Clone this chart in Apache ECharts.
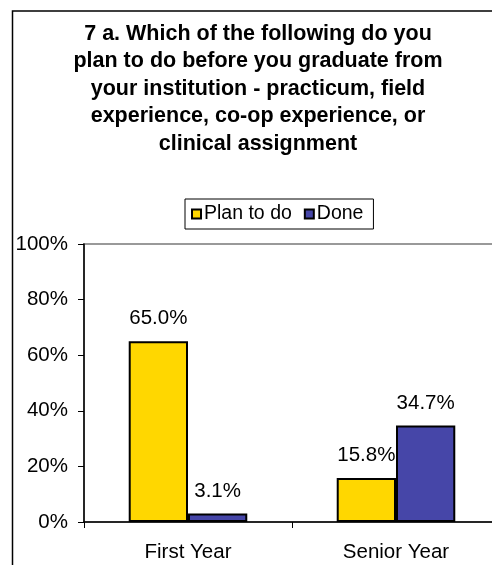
<!DOCTYPE html>
<html>
<head>
<meta charset="utf-8">
<script src="https://cdn.jsdelivr.net/npm/echarts@6/dist/echarts.min.js"></script>
<style>
    html, body { margin: 0; padding: 0; background: #fff; overflow: hidden; }
    #main { width: 540px; height: 600px; }
</style>
</head>
<body>
<div id="main"></div>
<script>
// data
var categories = ['First Year', 'Senior Year'];
var planToDo = [0.650, 0.158];
var done = [0.031, 0.347];
var seriesNames = ['Plan to do', 'Done'];

var font = 'Liberation Sans, Arial, sans-serif';

var dom = document.getElementById('main');
var myChart = echarts.init(dom, null, {renderer: 'canvas'});

function pct(v) {
    return (v * 100).toFixed(1) + '%';
}

var option = {
    animation: false,
    color: ['#FFD700', '#4646A8'],
    title: {
        text: '7 a. Which of the following do you\nplan to do before you graduate from\nyour institution - practicum, field\nexperience, co-op experience, or\nclinical assignment',
        left: 253,
        textAlign: 'center',
        top: 15,
        textStyle: {
            fontFamily: font,
            fontSize: 21.5,
            fontWeight: 'bold',
            color: '#000',
            lineHeight: 27.5
        }
    },
    graphic: [{
        type: 'rect',
        shape: {x: 12.5, y: 11, width: 600, height: 700},
        style: {fill: null, stroke: '#000', lineWidth: 1.5},
        silent: true
    }],
    legend: {
        data: seriesNames,
        left: 185,
        top: 199,
        orient: 'horizontal',
        borderColor: '#000',
        borderWidth: 1,
        padding: [5, 10, 5, 6],
        itemWidth: 9,
        itemHeight: 9,
        itemGap: 12,
        icon: 'rect',
        itemStyle: {borderColor: '#000', borderWidth: 2},
        textStyle: {fontFamily: font, fontSize: 19.5, color: '#000', padding: [0, 0, 0, -2]}
    },
    grid: {
        left: 84,
        top: 244,
        width: 416,
        height: 278,
        show: true,
        borderColor: '#999',
        borderWidth: 2,
        containLabel: false
    },
    xAxis: {
        type: 'category',
        data: categories,
        axisLine: {show: true, lineStyle: {color: '#000', width: 1.5}},
        axisTick: {show: true, length: 6, lineStyle: {color: '#000'}},
        axisLabel: {fontFamily: font, fontSize: 20.5, color: '#000', margin: 20},
        splitLine: {show: false}
    },
    yAxis: {
        type: 'value',
        min: 0,
        max: 1,
        interval: 0.2,
        axisLine: {show: true, lineStyle: {color: '#000', width: 1.5}},
        axisTick: {show: true, length: 6, lineStyle: {color: '#000'}},
        axisLabel: {
            fontFamily: font, fontSize: 20.5, color: '#000', margin: 16,
            formatter: function (v) { return Math.round(v * 100) + '%'; }
        },
        splitLine: {show: false}
    },
    series: [
        {
            name: seriesNames[0],
            type: 'bar',
            data: planToDo,
            barGap: '0%',
            barCategoryGap: '43%',
            itemStyle: {borderColor: '#000', borderWidth: 2},
            label: {
                show: true, position: 'top', distance: 12,
                fontFamily: font, fontSize: 20.5, color: '#000',
                formatter: function (p) { return pct(p.value); }
            }
        },
        {
            name: seriesNames[1],
            type: 'bar',
            data: done,
            barGap: '0%',
            barCategoryGap: '43%',
            itemStyle: {borderColor: '#000', borderWidth: 2},
            label: {
                show: true, position: 'top', distance: 12,
                fontFamily: font, fontSize: 20.5, color: '#000',
                formatter: function (p) { return pct(p.value); }
            }
        }
    ]
};

if (option && typeof option === "object") {
    myChart.setOption(option, true);
}
</script>
</body>
</html>
